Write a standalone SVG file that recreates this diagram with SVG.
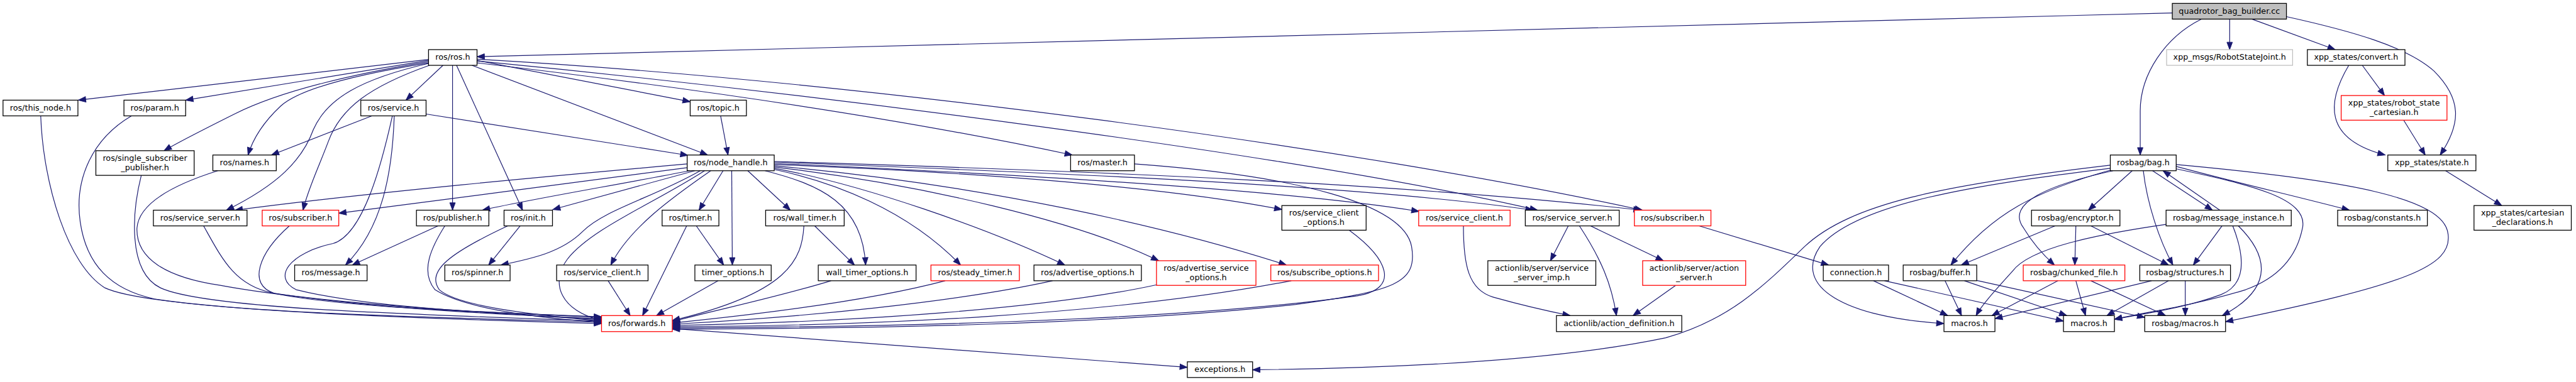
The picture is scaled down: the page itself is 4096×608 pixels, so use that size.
<svg xmlns="http://www.w3.org/2000/svg" width="4096" height="608" viewBox="0 0 4096 608">
<style>
.e{fill:none;stroke:#191970;stroke-width:1.2;marker-end:url(#a)}
.n rect{fill:#fff;stroke:#000;stroke-width:1.3}
.r rect{stroke:#ff0000}
.g rect{stroke:#bfbfbf}
.q rect{fill:#bfbfbf}
text{font-family:"DejaVu Sans","Liberation Sans",sans-serif;font-size:13px;text-anchor:middle;fill:#000}
</style>
<defs>
<marker id="a" markerUnits="userSpaceOnUse" markerWidth="13" markerHeight="10" refX="12" refY="4.5" orient="auto" overflow="visible"><path d="M0,0 L12,4.5 L0,9 z" fill="#191970" stroke="#191970" stroke-width="1"/></marker>
</defs>
<rect x="0" y="0" width="4096" height="608" fill="#fff"/>
<g transform="scale(0.981)">
<g id="edges">
<path class="e" d="M3521,21 L773.2,92"/>
<path class="e" d="M3568,31 C3510,60 3469,120 3469,180 L3469,251.5"/>
<path class="e" d="M3614,31 L3614,80.5"/>
<path class="e" d="M3650,31 L3785,80.5"/>
<path class="e" d="M3706,27 C3810,50 3900,75 3945,115 C3990,160 3990,200 3955,251.5"/>
<path class="e" d="M3829,106 L3865,155"/>
<path class="e" d="M3807,106 C3772,165 3765,225 3866,251.5"/>
<path class="e" d="M3896,195 L3931,251.5"/>
<path class="e" d="M3964,277 L4055,333.5"/>
<path class="e" d="M694.6,96.5 L127,162.5"/>
<path class="e" d="M694.6,98 L301,162.5"/>
<path class="e" d="M694.6,100 C560,122 450,150 380,185 C330,210 290,230 266,244.5"/>
<path class="e" d="M694.6,102 C570,122 485,145 455,172 C425,200 410,225 402,251.5"/>
<path class="e" d="M694.6,103 C585,128 530,160 508,210 C490,260 450,300 367,341"/>
<path class="e" d="M696,106 C600,140 552,175 532,230 C515,275 500,305 491,341"/>
<path class="e" d="M718,106 L658,162.5"/>
<path class="e" d="M733.5,106 L733.5,341"/>
<path class="e" d="M740,106 L847,341"/>
<path class="e" d="M765,106 L1147,251.5"/>
<path class="e" d="M773.2,98 L1118.7,165"/>
<path class="e" d="M773.2,102 C1100,140 1450,190 1738,251.5"/>
<path class="e" d="M773.2,99 C1300,150 2100,250 2492,341"/>
<path class="e" d="M773.2,96 C1400,132 2200,240 2662,341"/>
<path class="e" d="M690.6,185 L1115,252"/>
<path class="e" d="M1168,188 L1180,251.5"/>
<path class="e" d="M1113.8,266 C900,285 600,312 381,341"/>
<path class="e" d="M1113.8,272 C950,295 700,325 549.1,346"/>
<path class="e" d="M1118,277 C1000,300 850,325 782,341"/>
<path class="e" d="M1126,277 L896,340"/>
<path class="e" d="M1135,277 C1060,320 980,340 945,375 C910,410 860,420 812,430"/>
<path class="e" d="M843,366.5 L792,430"/>
<path class="e" d="M1142,277 C1060,330 960,370 920,420 C890,460 910,505 975,520"/>
<path class="e" d="M1152,277 C1090,320 1020,370 990,430"/>
<path class="e" d="M1172,277 L1133,341"/>
<path class="e" d="M1186,277 L1187,430"/>
<path class="e" d="M1212,277 L1281,341"/>
<path class="e" d="M1240,277 C1330,300 1398,330 1403,430"/>
<path class="e" d="M1254.9,275 C1350,295 1470,340 1557,430"/>
<path class="e" d="M1254.9,273 C1400,300 1600,370 1726,430"/>
<path class="e" d="M1254.9,271 C1500,300 1750,360 1878,423"/>
<path class="e" d="M1254.9,269 C1600,300 1900,370 2085,430"/>
<path class="e" d="M1254.9,267 C1600,280 1900,305 2077.7,340"/>
<path class="e" d="M1254.9,265 C1700,285 2100,310 2300,343"/>
<path class="e" d="M1254.9,263 C1700,280 2200,300 2485,341"/>
<path class="e" d="M1254.9,262 C1800,278 2300,300 2660,341"/>
<path class="e" d="M1320.5,366.5 L1385,430"/>
<path class="e" d="M1128.6,366.5 L1173,430"/>
<path class="e" d="M1113,366.5 L1041.5,512"/>
<path class="e" d="M1164,455.5 L1064,512"/>
<path class="e" d="M985.7,455.5 L1021.4,512"/>
<path class="e" d="M1303,366.5 C1300,420 1280,475 1089.7,520"/>
<path class="e" d="M1347,455.5 C1250,485 1150,505 1089.7,522"/>
<path class="e" d="M1532,455.5 C1420,485 1250,508 1089.7,524"/>
<path class="e" d="M1706,455.5 C1550,490 1300,515 1089.7,526"/>
<path class="e" d="M1875,462 C1700,500 1400,522 1089.7,528"/>
<path class="e" d="M2093,455.5 C1800,512 1400,529 1089.7,530"/>
<path class="e" d="M2187,373.5 C2250,420 2270,468 2200,480 C1900,522 1400,531 1089.7,532"/>
<path class="e" d="M1838.8,266 C2100,285 2275,330 2288,400 C2298,460 2260,472 2100,494 C1800,527 1400,533 1089.7,534"/>
<path class="e" d="M1089.7,533 C1400,555 1700,578 1924.5,596"/>
<path class="e" d="M66,188 C70,300 110,430 170,467 C240,500 600,515 975,525"/>
<path class="e" d="M213,188 C150,225 120,290 130,360 C140,430 180,470 250,485 C400,508 700,515 975,523"/>
<path class="e" d="M229,284.5 C215,340 205,440 260,467 C330,500 650,510 975,521"/>
<path class="e" d="M353,277 C280,300 225,330 222,370 C220,420 270,450 357,463 C500,490 750,505 975,519"/>
<path class="e" d="M330,366.5 C360,420 380,462 440,475 C600,500 800,510 975,517"/>
<path class="e" d="M469,366.5 C420,410 400,462 445,476 C560,500 800,506 975,515"/>
<path class="e" d="M636,188 C620,260 590,380 540,395 C470,410 440,450 480,470 C600,500 800,508 975,514"/>
<path class="e" d="M639,188 C636,280 620,370 560,430"/>
<path class="e" d="M602.6,188 L440,251.5"/>
<path class="e" d="M710,366.5 L571,430"/>
<path class="e" d="M721,366.5 C700,400 680,440 705,470 C760,505 900,518 975,523"/>
<path class="e" d="M823,366.5 C730,410 690,440 712,470 C745,500 900,514 975,521"/>
<path class="e" d="M2372,366.5 C2372,430 2380,470 2420,482 C2470,496 2510,505 2545,512"/>
<path class="e" d="M2542,366.5 L2513,423"/>
<path class="e" d="M2560,366.5 C2595,420 2612,460 2620,512"/>
<path class="e" d="M2578,366.5 L2696,423"/>
<path class="e" d="M2716,463 L2647,512"/>
<path class="e" d="M2754,366.5 L2964,430"/>
<path class="e" d="M3420.5,268 C3150,300 3000,330 2925,400 C2855,468 2800,520 2700,548 C2500,590 2200,598 2030.3,600"/>
<path class="e" d="M3420.5,273 C3200,300 3010,330 2950,400 C2905,465 2990,515 3150.9,525"/>
<path class="e" d="M3421,276 C3300,310 3230,345 3162,430"/>
<path class="e" d="M3425,277 C3320,300 3250,330 3280,370 C3295,395 3310,412 3330,430"/>
<path class="e" d="M3456,277 L3385,341"/>
<path class="e" d="M3474,277 C3480,330 3500,390 3522,430"/>
<path class="e" d="M3489,277 L3586,341"/>
<path class="e" d="M3598,341 L3506,277"/>
<path class="e" d="M3527.3,270 C3620,295 3720,318 3808,341"/>
<path class="e" d="M3527.3,274 C3650,300 3742,322 3732,370 C3722,420 3690,452 3640,470 C3560,495 3480,506 3427.2,518"/>
<path class="e" d="M3527.3,267 C3800,292 3962,320 3968,380 C3975,432 3900,462 3607.3,522"/>
<path class="e" d="M3601.5,366.5 L3555,430"/>
<path class="e" d="M3619,366.5 C3640,420 3640,462 3600,478 C3540,500 3480,508 3427.2,518"/>
<path class="e" d="M3628,366.5 C3672,410 3692,465 3602,512"/>
<path class="e" d="M3511,364 C3400,380 3290,402 3262,440 C3235,470 3212,495 3203,512"/>
<path class="e" d="M3331,366.5 L3179,430"/>
<path class="e" d="M3364.7,366.5 L3363,430"/>
<path class="e" d="M3389,366.5 L3515,430"/>
<path class="e" d="M3036.6,455.5 L3157,512"/>
<path class="e" d="M3054.5,455.5 L3344.6,521"/>
<path class="e" d="M3152.6,455.5 L3179.4,512"/>
<path class="e" d="M3184,455.5 L3350,512"/>
<path class="e" d="M3204,455 L3476.3,515"/>
<path class="e" d="M3335.7,455.5 L3228.6,512"/>
<path class="e" d="M3364.7,455.5 L3380.3,512"/>
<path class="e" d="M3389,455.5 L3510,512"/>
<path class="e" d="M3487.4,455.5 L3233.5,517"/>
<path class="e" d="M3515,455.5 L3415,512"/>
<path class="e" d="M3542,455.5 L3542,512"/>
</g>
<g id="nodes">
<g id="n_quad" class="n q"><rect x="3521" y="5.5" width="185" height="25.5"/><text x="3613.5" y="22.3">quadrotor_bag_builder.cc</text></g>
<g id="n_ros" class="n"><rect x="694.6" y="80.5" width="78.6" height="25.5"/><text x="733.9" y="97.3">ros/ros.h</text></g>
<g id="n_rsj" class="n g"><rect x="3511.8" y="80.5" width="204.2" height="25.5"/><text x="3613.9" y="97.3">xpp_msgs/RobotStateJoint.h</text></g>
<g id="n_convert" class="n"><rect x="3739.9" y="80.5" width="158.2" height="25.5"/><text x="3819" y="97.3">xpp_states/convert.h</text></g>
<g id="n_this_node" class="n"><rect x="4.9" y="162.5" width="121.4" height="25.5"/><text x="65.6" y="179.3">ros/this_node.h</text></g>
<g id="n_param" class="n"><rect x="200.9" y="162.5" width="100" height="25.5"/><text x="250.9" y="179.3">ros/param.h</text></g>
<g id="n_service" class="n"><rect x="584.8" y="162.5" width="105.8" height="25.5"/><text x="637.7" y="179.3">ros/service.h</text></g>
<g id="n_topic" class="n"><rect x="1118.7" y="162.5" width="91.1" height="25.5"/><text x="1164.25" y="179.3">ros/topic.h</text></g>
<g id="n_rsc" class="n r"><rect x="3794.7" y="155" width="171.5" height="40"/><text x="3880.45" y="171.5">xpp_states/robot_state</text><text x="3880.45" y="186.5">_cartesian.h</text></g>
<g id="n_ssp" class="n"><rect x="155.4" y="244.5" width="159.3" height="40"/><text x="235" y="261">ros/single_subscriber</text><text x="235" y="276">_publisher.h</text></g>
<g id="n_names" class="n"><rect x="345" y="251.5" width="102.8" height="25.5"/><text x="396.4" y="268.3">ros/names.h</text></g>
<g id="n_nh" class="n"><rect x="1113.8" y="251.5" width="141.1" height="25.5"/><text x="1184.35" y="268.3">ros/node_handle.h</text></g>
<g id="n_master" class="n"><rect x="1735.3" y="251.5" width="103.5" height="25.5"/><text x="1787" y="268.3">ros/master.h</text></g>
<g id="n_bag" class="n"><rect x="3420.5" y="251.5" width="106.8" height="25.5"/><text x="3473.9" y="268.3">rosbag/bag.h</text></g>
<g id="n_state" class="n"><rect x="3870.3" y="251.5" width="142.8" height="25.5"/><text x="3941.7" y="268.3">xpp_states/state.h</text></g>
<g id="n_ssL" class="n"><rect x="248.6" y="341" width="151.8" height="25.5"/><text x="324.5" y="357.8">ros/service_server.h</text></g>
<g id="n_subL" class="n r"><rect x="425" y="341" width="124.1" height="25.5"/><text x="487" y="357.8">ros/subscriber.h</text></g>
<g id="n_pub" class="n"><rect x="675" y="341" width="117.4" height="25.5"/><text x="733.7" y="357.8">ros/publisher.h</text></g>
<g id="n_init" class="n"><rect x="817" y="341" width="78.5" height="25.5"/><text x="856.2" y="357.8">ros/init.h</text></g>
<g id="n_timer" class="n"><rect x="1073.2" y="341" width="92" height="25.5"/><text x="1119.2" y="357.8">ros/timer.h</text></g>
<g id="n_wtimer" class="n"><rect x="1241" y="341" width="127.3" height="25.5"/><text x="1304.6" y="357.8">ros/wall_timer.h</text></g>
<g id="n_sco" class="n"><rect x="2077.7" y="333.5" width="136.6" height="40"/><text x="2146" y="350">ros/service_client</text><text x="2146" y="365">_options.h</text></g>
<g id="n_scR" class="n r"><rect x="2299.5" y="341" width="148.2" height="25.5"/><text x="2373.6" y="357.8">ros/service_client.h</text></g>
<g id="n_ssR" class="n"><rect x="2472.3" y="341" width="152.2" height="25.5"/><text x="2548.4" y="357.8">ros/service_server.h</text></g>
<g id="n_subR" class="n r"><rect x="2649.1" y="341" width="124.1" height="25.5"/><text x="2711.1" y="357.8">ros/subscriber.h</text></g>
<g id="n_enc" class="n"><rect x="3292.8" y="341" width="143.3" height="25.5"/><text x="3364.4" y="357.8">rosbag/encryptor.h</text></g>
<g id="n_mi" class="n"><rect x="3510.9" y="341" width="202.9" height="25.5"/><text x="3612.3" y="357.8">rosbag/message_instance.h</text></g>
<g id="n_const" class="n"><rect x="3789" y="341" width="145.4" height="25.5"/><text x="3861.7" y="357.8">rosbag/constants.h</text></g>
<g id="n_cdecl" class="n"><rect x="4010" y="333.5" width="157.7" height="40"/><text x="4088.8" y="350">xpp_states/cartesian</text><text x="4088.8" y="365">_declarations.h</text></g>
<g id="n_msg" class="n"><rect x="477.6" y="430" width="117.4" height="25.5"/><text x="536.3" y="446.8">ros/message.h</text></g>
<g id="n_spin" class="n"><rect x="721" y="430" width="105.8" height="25.5"/><text x="773.9" y="446.8">ros/spinner.h</text></g>
<g id="n_scB" class="n"><rect x="902.2" y="430" width="148.2" height="25.5"/><text x="976.3" y="446.8">ros/service_client.h</text></g>
<g id="n_topt" class="n"><rect x="1126.3" y="430" width="123.7" height="25.5"/><text x="1188.1" y="446.8">timer_options.h</text></g>
<g id="n_wtopt" class="n"><rect x="1326.3" y="430" width="158.5" height="25.5"/><text x="1405.5" y="446.8">wall_timer_options.h</text></g>
<g id="n_steady" class="n r"><rect x="1508.9" y="430" width="143.3" height="25.5"/><text x="1580.5" y="446.8">ros/steady_timer.h</text></g>
<g id="n_advo" class="n"><rect x="1675.9" y="430" width="174.1" height="25.5"/><text x="1762.9" y="446.8">ros/advertise_options.h</text></g>
<g id="n_advso" class="n r"><rect x="1874.5" y="423" width="161.2" height="40"/><text x="1955.1" y="439.5">ros/advertise_service</text><text x="1955.1" y="454.5">_options.h</text></g>
<g id="n_subo" class="n r"><rect x="2059.8" y="430" width="174.6" height="25.5"/><text x="2147.1" y="446.8">ros/subscribe_options.h</text></g>
<g id="n_ssimp" class="n"><rect x="2411.6" y="423" width="175" height="40"/><text x="2499.1" y="439.5">actionlib/server/service</text><text x="2499.1" y="454.5">_server_imp.h</text></g>
<g id="n_aserver" class="n r"><rect x="2662.5" y="423" width="167" height="40"/><text x="2746" y="439.5">actionlib/server/action</text><text x="2746" y="454.5">_server.h</text></g>
<g id="n_conn" class="n"><rect x="2955.3" y="430" width="105.8" height="25.5"/><text x="3008.2" y="446.8">connection.h</text></g>
<g id="n_buf" class="n"><rect x="3084.8" y="430" width="119.2" height="25.5"/><text x="3144.4" y="446.8">rosbag/buffer.h</text></g>
<g id="n_chunk" class="n r"><rect x="3279.4" y="430" width="164.7" height="25.5"/><text x="3361.7" y="446.8">rosbag/chunked_file.h</text></g>
<g id="n_struct" class="n"><rect x="3468.3" y="430" width="147" height="25.5"/><text x="3541.8" y="446.8">rosbag/structures.h</text></g>
<g id="n_fwd" class="n r"><rect x="975" y="512" width="114.7" height="26"/><text x="1032.3" y="529">ros/forwards.h</text></g>
<g id="n_adef" class="n"><rect x="2522.7" y="512" width="203.2" height="26"/><text x="2624.3" y="529">actionlib/action_definition.h</text></g>
<g id="n_mac1" class="n"><rect x="3150.9" y="512" width="82.6" height="26"/><text x="3192.2" y="529">macros.h</text></g>
<g id="n_mac2" class="n"><rect x="3344.6" y="512" width="82.6" height="26"/><text x="3385.9" y="529">macros.h</text></g>
<g id="n_rmac" class="n"><rect x="3476.3" y="512" width="131" height="26"/><text x="3541.8" y="529">rosbag/macros.h</text></g>
<g id="n_exc" class="n"><rect x="1924.5" y="587" width="105.8" height="25.5"/><text x="1977.4" y="603.8">exceptions.h</text></g>
</g>
</g>
</svg>
